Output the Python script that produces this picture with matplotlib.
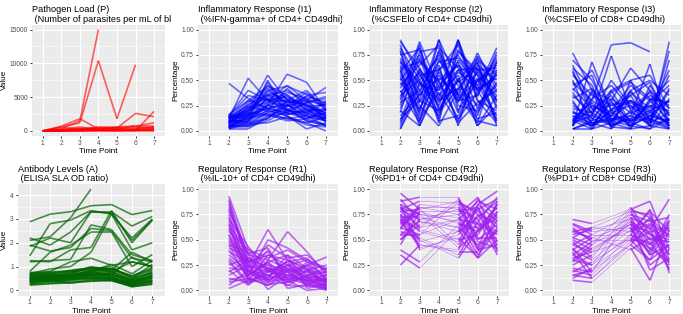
import numpy as np
import matplotlib
matplotlib.use("Agg")
import matplotlib.pyplot as plt
from matplotlib.transforms import Bbox, TransformedBbox

nan = np.nan
time_points = [1, 2, 3, 4, 5, 6, 7]
time_labels = ["1", "2", "3", "4", "5", "6", "7"]

# ---------------- data (one row per subject) ----------------
pathogen_load = [
    [50, 300, 1500, 15000, nan, nan, nan],
    [20, 600, 1200, 10400, 1800, 9800, nan],
    [0, 700, 1800, 300, 400, 2600, 2100],
    [0, 200, 600, 200, 500, 0, 2900],
    [0, 500, 300, 400, 600, 700, 1200],
    [0, 100, 200, 500, 300, 800, 800],
    [0, 50, 100, 200, 150, 300, 500],
    [0, 0, 50, 100, 50, 100, 200],
    [0, 30, 400, 150, 250, 400, 600],
    [0, 80, 150, 300, 200, 200, 300],
    [0, 10, 20, 50, 30, 50, 100],
    [0, 150, 250, 600, 500, 550, 400],
    [0, 20, 60, 80, 100, 150, 50],
    [0, 5, 10, 20, 10, 20, 30],
]

infl_i1 = [
    [nan, 0.47, 0.32, 0.22, 0.18, 0.15, 0.10],
    [nan, 0.12, 0.52, 0.30, 0.20, 0.18, 0.12],
    [nan, 0.10, 0.20, 0.55, 0.30, 0.25, 0.18],
    [nan, 0.08, 0.15, 0.25, 0.56, 0.48, 0.20],
    [nan, 0.15, 0.40, 0.30, 0.45, 0.30, 0.43],
    [nan, 0.05, 0.10, 0.50, 0.20, 0.35, 0.38],
    [nan, 0.03, 0.05, 0.15, 0.22, 0.10, 0.05],
    [nan, 0.10, 0.18, 0.45, 0.35, 0.20, 0.15],
    [nan, 0.06, 0.12, 0.20, 0.15, 0.02, 0.08],
    [nan, 0.14, 0.25, 0.40, 0.28, 0.30, 0.25],
    [nan, 0.02, 0.08, 0.12, 0.30, 0.22, 0.10],
    [nan, 0.12, 0.22, 0.35, 0.40, 0.28, 0.32],
    [nan, 0.09, 0.06, 0.18, 0.12, 0.15, 0.05],
    [nan, 0.04, 0.14, 0.28, 0.25, 0.38, 0.20],
    [nan, 0.16, 0.30, 0.22, 0.18, 0.12, 0.22],
    [nan, 0.07, 0.20, 0.38, 0.32, 0.26, 0.14],
    [nan, 0.11, 0.09, 0.26, 0.14, 0.08, 0.00],
    [nan, 0.13, 0.16, 0.32, 0.24, 0.34, 0.28],
    [nan, 0.05, 0.04, 0.10, 0.20, 0.16, 0.12],
    [nan, 0.08, 0.28, 0.42, 0.26, 0.18, 0.30],
    [nan, 0.15, 0.12, 0.24, 0.36, 0.22, 0.16],
    [nan, 0.03, 0.18, 0.16, 0.10, 0.12, 0.18],
    [nan, 0.10, 0.10, 0.34, 0.28, 0.32, 0.08],
    [nan, 0.06, 0.24, 0.20, 0.42, 0.24, 0.26],
    [nan, 0.12, 0.14, 0.48, 0.16, 0.20, 0.12],
    [nan, 0.04, 0.07, 0.08, 0.14, 0.06, 0.04],
    [nan, 0.14, 0.35, 0.30, 0.30, 0.40, 0.22],
    [nan, 0.09, 0.16, 0.22, 0.26, 0.14, 0.10],
    [nan, 0.02, 0.02, 0.14, 0.18, 0.28, 0.14],
    [nan, 0.11, 0.26, 0.36, 0.22, 0.10, 0.06],
    [nan, 0.08, 0.12, 0.26, 0.20, 0.18, 0.10],
    [nan, 0.13, 0.20, 0.30, 0.34, 0.24, 0.18],
    [nan, 0.05, 0.15, 0.22, 0.28, 0.20, 0.22],
    [nan, 0.10, 0.08, 0.18, 0.24, 0.30, 0.16],
    [nan, 0.07, 0.22, 0.28, 0.38, 0.32, 0.24],
    [nan, 0.15, 0.18, 0.36, 0.30, 0.26, 0.12],
    [nan, 0.03, 0.10, 0.20, 0.16, 0.22, 0.20],
    [nan, 0.12, 0.30, 0.44, 0.32, 0.16, 0.28],
    [nan, 0.06, 0.05, 0.12, 0.26, 0.12, 0.06],
    [nan, 0.09, 0.24, 0.32, 0.20, 0.28, 0.34],
    [nan, 0.14, 0.16, 0.40, 0.44, 0.36, 0.26],
    [nan, 0.04, 0.13, 0.16, 0.12, 0.08, 0.14],
]

infl_i2 = [
    [nan, 0.90, 0.55, 0.30, 0.60, 0.40, 0.82],
    [nan, 0.85, 0.30, 0.90, 0.20, 0.50, 0.65],
    [nan, 0.10, 0.60, 0.40, 0.90, 0.30, 0.20],
    [nan, 0.02, 0.45, 0.75, 0.35, 0.77, 0.40],
    [nan, 0.75, 0.80, 0.20, 0.50, 0.15, 0.70],
    [nan, 0.55, 0.10, 0.60, 0.75, 0.40, 0.10],
    [nan, 0.30, 0.70, 0.50, 0.10, 0.60, 0.30],
    [nan, 0.65, 0.25, 0.05, 0.40, 0.70, 0.55],
    [nan, 0.20, 0.05, 0.45, 0.65, 0.10, 0.05],
    [nan, 0.45, 0.65, 0.85, 0.25, 0.20, 0.60],
    [nan, 0.70, 0.40, 0.15, 0.80, 0.55, 0.35],
    [nan, 0.15, 0.35, 0.65, 0.05, 0.65, 0.50],
    [nan, 0.50, 0.75, 0.35, 0.55, 0.05, 0.25],
    [nan, 0.80, 0.15, 0.55, 0.30, 0.35, 0.75],
    [nan, 0.35, 0.50, 0.25, 0.70, 0.45, 0.15],
    [nan, 0.60, 0.20, 0.70, 0.45, 0.25, 0.45],
    [nan, 0.25, 0.85, 0.10, 0.15, 0.50, 0.60],
    [nan, 0.05, 0.55, 0.60, 0.85, 0.30, 0.08],
    [nan, 0.72, 0.45, 0.40, 0.60, 0.62, 0.38],
    [nan, 0.40, 0.08, 0.80, 0.35, 0.08, 0.68],
    [nan, 0.12, 0.30, 0.20, 0.50, 0.72, 0.30],
    [nan, 0.62, 0.68, 0.48, 0.12, 0.38, 0.55],
    [nan, 0.28, 0.40, 0.68, 0.72, 0.55, 0.12],
    [nan, 0.88, 0.62, 0.30, 0.42, 0.18, 0.48],
    [nan, 0.48, 0.22, 0.58, 0.28, 0.68, 0.22],
    [nan, 0.18, 0.78, 0.82, 0.62, 0.45, 0.72],
    [nan, 0.58, 0.12, 0.38, 0.08, 0.28, 0.40],
    [nan, 0.38, 0.58, 0.12, 0.78, 0.60, 0.62],
    [nan, 0.68, 0.35, 0.52, 0.38, 0.12, 0.18],
    [nan, 0.08, 0.48, 0.28, 0.58, 0.42, 0.52],
    [nan, 0.82, 0.50, 0.72, 0.30, 0.52, 0.10],
    [nan, 0.32, 0.88, 0.42, 0.68, 0.22, 0.58],
    [nan, 0.52, 0.18, 0.90, 0.48, 0.62, 0.28],
    [nan, 0.22, 0.62, 0.08, 0.88, 0.34, 0.78],
    [nan, 0.78, 0.28, 0.62, 0.18, 0.74, 0.45],
    [nan, 0.42, 0.72, 0.22, 0.52, 0.05, 0.35],
    [nan, 0.62, 0.05, 0.50, 0.65, 0.48, 0.68],
    [nan, 0.02, 0.38, 0.78, 0.32, 0.58, 0.25],
    [nan, 0.58, 0.82, 0.32, 0.90, 0.40, 0.55],
    [nan, 0.68, 0.48, 0.18, 0.42, 0.68, 0.05],
]

infl_i3 = [
    [nan, 0.10, 0.30, 0.85, 0.87, 0.78, nan],
    [nan, 0.77, 0.40, 0.10, 0.30, 0.20, 0.05],
    [nan, 0.05, 0.68, 0.20, 0.05, 0.30, 0.10],
    [nan, 0.60, 0.15, 0.74, 0.20, 0.05, 0.88],
    [nan, 0.20, 0.05, 0.30, 0.62, 0.40, 0.15],
    [nan, 0.45, 0.55, 0.05, 0.15, 0.66, 0.02],
    [nan, 0.02, 0.10, 0.40, 0.50, 0.10, 0.79],
    [nan, 0.65, 0.25, 0.15, 0.10, 0.25, 0.20],
    [nan, 0.30, 0.02, 0.08, 0.40, 0.50, 0.35],
    [nan, 0.10, 0.20, 0.35, 0.05, 0.15, 0.08],
    [nan, 0.55, 0.35, 0.25, 0.30, 0.08, 0.40],
    [nan, 0.15, 0.08, 0.02, 0.20, 0.35, 0.25],
    [nan, 0.70, 0.50, 0.12, 0.08, 0.02, 0.12],
    [nan, 0.08, 0.15, 0.50, 0.25, 0.12, 0.05],
    [nan, 0.40, 0.60, 0.20, 0.45, 0.30, 0.50],
    [nan, 0.25, 0.12, 0.06, 0.12, 0.20, 0.30],
    [nan, 0.05, 0.40, 0.30, 0.02, 0.45, 0.15],
    [nan, 0.50, 0.05, 0.15, 0.35, 0.05, 0.70],
    [nan, 0.12, 0.28, 0.10, 0.18, 0.10, 0.02],
    [nan, 0.35, 0.18, 0.40, 0.08, 0.28, 0.45],
    [nan, 0.02, 0.02, 0.22, 0.28, 0.15, 0.10],
    [nan, 0.62, 0.45, 0.02, 0.50, 0.55, 0.22],
    [nan, 0.18, 0.10, 0.18, 0.05, 0.02, 0.32],
    [nan, 0.08, 0.32, 0.45, 0.22, 0.38, 0.06],
    [nan, 0.28, 0.08, 0.12, 0.15, 0.08, 0.18],
    [nan, 0.42, 0.22, 0.08, 0.38, 0.22, 0.60],
    [nan, 0.15, 0.05, 0.28, 0.10, 0.12, 0.03],
    [nan, 0.05, 0.38, 0.04, 0.02, 0.32, 0.28],
    [nan, 0.12, 0.05, 0.20, 0.30, 0.18, 0.08],
    [nan, 0.22, 0.18, 0.05, 0.12, 0.40, 0.22],
    [nan, 0.05, 0.25, 0.15, 0.40, 0.10, 0.42],
    [nan, 0.38, 0.12, 0.32, 0.18, 0.25, 0.05],
    [nan, 0.02, 0.08, 0.10, 0.05, 0.15, 0.30],
    [nan, 0.48, 0.30, 0.18, 0.25, 0.05, 0.12],
    [nan, 0.10, 0.02, 0.38, 0.48, 0.32, 0.18],
    [nan, 0.32, 0.42, 0.12, 0.10, 0.18, 0.55],
    [nan, 0.58, 0.22, 0.25, 0.35, 0.48, 0.10],
    [nan, 0.18, 0.15, 0.08, 0.02, 0.05, 0.02],
]

antibody = [
    [2.88, 3.20, 3.30, 3.55, 3.60, 3.18, 3.35],
    [2.10, 2.25, 3.05, 4.25, nan, nan, nan],
    [1.85, 2.20, 2.00, 3.30, 3.30, 2.70, 3.10],
    [1.45, 2.80, 2.95, 3.35, 3.20, 2.20, 3.00],
    [2.20, 1.90, 2.45, 3.30, 3.25, 2.10, 2.95],
    [1.20, 1.25, 1.30, 2.75, 2.55, 1.50, 1.25],
    [0.80, 1.60, 1.90, 2.45, 2.45, 1.00, 1.50],
    [1.25, 1.20, 1.70, 1.80, 3.35, 2.00, 2.95],
    [0.70, 0.90, 1.00, 1.60, 3.20, 1.70, 2.00],
    [0.75, 0.80, 1.20, 1.35, 1.05, 1.20, 1.00],
    [1.90, 1.65, 1.80, 2.60, 2.50, 1.35, 1.20],
    [0.55, 0.60, 0.75, 0.95, 0.80, 0.45, 0.80],
    [0.45, 0.50, 0.55, 0.70, 0.60, 0.25, 0.55],
    [0.35, 0.40, 0.45, 0.55, 0.50, 0.20, 0.40],
    [0.60, 0.70, 0.60, 0.85, 0.90, 0.60, 0.90],
    [0.25, 0.30, 0.35, 0.40, 0.45, 0.15, 0.30],
    [0.50, 0.55, 0.65, 0.75, 0.70, 0.35, 0.65],
    [0.40, 0.45, 0.50, 0.60, 0.55, 0.30, 0.50],
    [0.65, 0.60, 0.70, 1.00, 0.85, 1.60, 1.20],
    [0.30, 0.35, 0.40, 0.50, 0.45, 0.25, 0.35],
    [0.70, 0.75, 0.80, 0.90, 1.00, 0.50, 1.10],
    [0.55, 0.45, 0.60, 0.65, 0.75, 0.40, 0.70],
    [0.45, 0.65, 0.50, 0.80, 0.65, 1.40, 0.95],
    [0.38, 0.50, 0.58, 0.62, 0.58, 0.28, 0.45],
    [0.62, 0.55, 0.68, 0.78, 1.10, 0.70, 1.25],
    [0.28, 0.42, 0.30, 0.45, 0.40, 0.18, 0.28],
    [0.50, 0.38, 0.45, 0.58, 0.50, 0.35, 0.60],
    [0.72, 0.68, 0.85, 0.95, 0.92, 0.55, 0.85],
    [0.42, 0.58, 0.62, 0.72, 0.62, 0.45, 0.75],
    [0.58, 0.72, 0.78, 0.88, 0.78, 1.20, 1.00],
    [0.33, 0.48, 0.52, 0.48, 0.52, 0.22, 0.38],
    [0.48, 0.52, 0.58, 0.68, 0.72, 0.30, 0.62],
    [0.36, 0.42, 0.48, 0.52, 0.48, 0.24, 0.42],
    [0.62, 0.66, 0.72, 0.82, 0.88, 0.52, 0.72],
    [0.52, 0.58, 0.62, 0.78, 0.80, 0.42, 0.58],
    [0.22, 0.28, 0.32, 0.38, 0.42, 0.16, 0.25],
    [0.68, 0.78, 0.82, 0.95, 0.90, 0.62, 0.95],
    [0.44, 0.48, 0.55, 0.62, 0.66, 0.38, 0.52],
]

reg_r1 = [
    [nan, 0.93, 0.40, 0.25, 0.20, 0.15, 0.10],
    [nan, 0.90, 0.30, 0.20, 0.15, 0.10, 0.05],
    [nan, 0.85, 0.25, 0.60, 0.30, 0.20, 0.08],
    [nan, 0.80, 0.35, 0.30, 0.58, 0.38, 0.15],
    [nan, 0.75, 0.20, 0.15, 0.25, 0.12, 0.02],
    [nan, 0.70, 0.43, 0.20, 0.10, 0.25, 0.33],
    [nan, 0.65, 0.15, 0.50, 0.42, 0.30, 0.20],
    [nan, 0.60, 0.28, 0.10, 0.18, 0.05, 0.03],
    [nan, 0.55, 0.10, 0.35, 0.30, 0.22, 0.12],
    [nan, 0.50, 0.22, 0.25, 0.05, 0.15, 0.22],
    [nan, 0.45, 0.38, 0.18, 0.28, 0.08, 0.01],
    [nan, 0.40, 0.12, 0.05, 0.20, 0.18, 0.18],
    [nan, 0.35, 0.18, 0.40, 0.12, 0.28, 0.10],
    [nan, 0.30, 0.08, 0.12, 0.35, 0.02, 0.06],
    [nan, 0.25, 0.32, 0.22, 0.08, 0.20, 0.25],
    [nan, 0.20, 0.05, 0.30, 0.22, 0.10, 0.04],
    [nan, 0.15, 0.25, 0.01, 0.15, 0.25, 0.14],
    [nan, 0.10, 0.15, 0.28, 0.02, 0.06, 0.00],
    [nan, 0.05, 0.20, 0.08, 0.25, 0.12, 0.08],
    [nan, 0.02, 0.10, 0.15, 0.10, 0.00, 0.02],
    [nan, 0.88, 0.22, 0.45, 0.32, 0.35, 0.18],
    [nan, 0.78, 0.35, 0.10, 0.22, 0.18, 0.05],
    [nan, 0.68, 0.12, 0.22, 0.12, 0.06, 0.12],
    [nan, 0.58, 0.40, 0.32, 0.40, 0.28, 0.20],
    [nan, 0.48, 0.18, 0.06, 0.08, 0.14, 0.03],
    [nan, 0.38, 0.28, 0.38, 0.18, 0.08, 0.15],
    [nan, 0.28, 0.06, 0.18, 0.28, 0.32, 0.10],
    [nan, 0.18, 0.30, 0.14, 0.05, 0.04, 0.07],
    [nan, 0.62, 0.14, 0.28, 0.35, 0.22, 0.01],
    [nan, 0.52, 0.25, 0.08, 0.15, 0.10, 0.09],
    [nan, 0.82, 0.28, 0.35, 0.25, 0.20, 0.08],
    [nan, 0.72, 0.18, 0.12, 0.30, 0.15, 0.18],
    [nan, 0.42, 0.32, 0.22, 0.18, 0.25, 0.05],
    [nan, 0.32, 0.15, 0.28, 0.12, 0.10, 0.12],
    [nan, 0.22, 0.20, 0.10, 0.20, 0.06, 0.02],
    [nan, 0.12, 0.08, 0.20, 0.08, 0.14, 0.10],
    [nan, 0.08, 0.12, 0.05, 0.15, 0.08, 0.05],
    [nan, 0.55, 0.25, 0.18, 0.25, 0.30, 0.22],
    [nan, 0.65, 0.36, 0.42, 0.10, 0.20, 0.08],
    [nan, 0.45, 0.10, 0.15, 0.22, 0.12, 0.15],
]

reg_r2 = [
    [nan, 0.96, 0.80, nan, 0.88, 0.65, 0.55],
    [nan, 0.25, 0.45, nan, 0.40, 0.85, 0.98],
    [nan, 0.88, 0.92, nan, 0.92, 0.40, 0.70],
    [nan, 0.35, 0.22, nan, 0.60, 0.32, 0.50],
    [nan, 0.80, 0.70, nan, 0.75, 0.92, 0.40],
    [nan, 0.70, 0.60, nan, 0.50, 0.55, 0.85],
    [nan, 0.60, 0.85, nan, 0.80, 0.70, 0.35],
    [nan, 0.75, 0.50, nan, 0.32, 0.60, 0.75],
    [nan, 0.65, 0.75, nan, 0.68, 0.35, 0.60],
    [nan, 0.85, 0.40, nan, 0.55, 0.80, 0.90],
    [nan, 0.50, 0.65, nan, 0.85, 0.50, 0.65],
    [nan, 0.78, 0.80, nan, 0.45, 0.75, 0.45],
    [nan, 0.55, 0.55, nan, 0.70, 0.88, 0.80],
    [nan, 0.72, 0.72, nan, 0.62, 0.45, 0.58],
    [nan, 0.82, 0.62, nan, 0.90, 0.60, 0.72],
    [nan, 0.45, 0.78, nan, 0.78, 0.82, 0.38],
    [nan, 0.68, 0.45, nan, 0.38, 0.38, 0.62],
    [nan, 0.90, 0.68, nan, 0.58, 0.72, 0.88],
    [nan, 0.62, 0.82, nan, 0.82, 0.52, 0.52],
    [nan, 0.75, 0.58, nan, 0.48, 0.85, 0.68],
    [nan, 0.40, 0.28, nan, 0.65, 0.62, 0.82],
    [nan, 0.85, 0.75, nan, 0.72, 0.40, 0.45],
    [nan, 0.58, 0.52, nan, 0.35, 0.68, 0.92],
    [nan, 0.80, 0.88, nan, 0.86, 0.78, 0.62],
    [nan, 0.70, 0.42, nan, 0.52, 0.32, 0.78],
    [nan, 0.66, 0.78, nan, 0.66, 0.58, 0.85],
    [nan, 0.72, 0.48, nan, 0.58, 0.90, 0.72],
    [nan, 0.50, 0.70, nan, 0.80, 0.48, 0.42],
    [nan, 0.78, 0.62, nan, 0.70, 0.66, 0.58],
    [nan, 0.62, 0.55, nan, 0.88, 0.75, 0.66],
    [nan, 0.82, 0.75, nan, 0.42, 0.58, 0.78],
    [nan, 0.55, 0.68, nan, 0.62, 0.82, 0.48],
    [nan, 0.68, 0.82, nan, 0.75, 0.42, 0.88],
]

reg_r3 = [
    [nan, 0.70, 0.66, nan, 0.80, 0.88, 0.40],
    [nan, 0.10, 0.08, nan, 0.42, 0.10, 0.60],
    [nan, 0.65, 0.55, nan, 0.75, 0.60, 0.90],
    [nan, 0.20, 0.15, nan, 0.55, 0.80, 0.17],
    [nan, 0.55, 0.60, nan, 0.70, 0.40, 0.75],
    [nan, 0.40, 0.30, nan, 0.60, 0.70, 0.25],
    [nan, 0.30, 0.45, nan, 0.82, 0.55, 0.50],
    [nan, 0.60, 0.50, nan, 0.50, 0.30, 0.65],
    [nan, 0.15, 0.20, nan, 0.45, 0.65, 0.35],
    [nan, 0.50, 0.40, nan, 0.65, 0.50, 0.55],
    [nan, 0.35, 0.25, nan, 0.78, 0.75, 0.30],
    [nan, 0.45, 0.55, nan, 0.55, 0.45, 0.70],
    [nan, 0.25, 0.35, nan, 0.68, 0.35, 0.45],
    [nan, 0.62, 0.48, nan, 0.72, 0.62, 0.20],
    [nan, 0.38, 0.12, nan, 0.48, 0.58, 0.62],
    [nan, 0.28, 0.42, nan, 0.62, 0.25, 0.40],
    [nan, 0.52, 0.62, nan, 0.58, 0.78, 0.58],
    [nan, 0.18, 0.28, nan, 0.52, 0.42, 0.28],
    [nan, 0.42, 0.18, nan, 0.75, 0.68, 0.72],
    [nan, 0.58, 0.52, nan, 0.40, 0.52, 0.48],
    [nan, 0.32, 0.38, nan, 0.66, 0.20, 0.32],
    [nan, 0.48, 0.32, nan, 0.80, 0.72, 0.52],
    [nan, 0.12, 0.22, nan, 0.50, 0.48, 0.22],
    [nan, 0.66, 0.58, nan, 0.62, 0.35, 0.68],
    [nan, 0.52, 0.45, nan, 0.68, 0.55, 0.42],
    [nan, 0.35, 0.48, nan, 0.58, 0.66, 0.55],
    [nan, 0.22, 0.18, nan, 0.72, 0.45, 0.62],
    [nan, 0.45, 0.38, nan, 0.50, 0.72, 0.35],
    [nan, 0.58, 0.62, nan, 0.78, 0.50, 0.48],
    [nan, 0.30, 0.25, nan, 0.55, 0.38, 0.68],
    [nan, 0.40, 0.52, nan, 0.65, 0.58, 0.28],
    [nan, 0.15, 0.12, nan, 0.45, 0.30, 0.45],
]

titles = [
    "Pathogen Load (P)\n (Number of parasites per mL of blood)",
    "Inflammatory Response (I1)\n (%IFN-gamma+ of CD4+ CD49dhi)",
    "Inflammatory Response (I2)\n (%CSFElo of CD4+ CD49dhi)",
    "Inflammatory Response (I3)\n (%CSFElo of CD8+ CD49dhi)",
    "Antibody Levels (A)\n (ELISA SLA OD ratio)",
    "Regulatory Response (R1)\n (%IL-10+ of CD4+ CD49dhi)",
    "Regulatory Response (R2)\n (%PD1+ of CD4+ CD49dhi)",
    "Regulatory Response (R3)\n (%PD1+ of CD8+ CD49dhi)",
]
y_titles = ["Value", "Percentage", "Percentage", "Percentage",
            "Value", "Percentage", "Percentage", "Percentage"]
series = [pathogen_load, infl_i1, infl_i2, infl_i3,
          antibody, reg_r1, reg_r2, reg_r3]
colors = ["#FF0000", "#0000FF", "#0000FF", "#0000FF",
          "#006400", "#A020F0", "#A020F0", "#A020F0"]
alphas = [0.6, 0.55, 0.6, 0.6, 0.7, 0.65, 0.7, 0.7]

pct_ticks = [0.0, 0.25, 0.5, 0.75, 1.0]
pct_labels = ["0.00", "0.25", "0.50", "0.75", "1.00"]
y_ticks = [[0, 5000, 10000, 15000], pct_ticks, pct_ticks, pct_ticks,
           [0, 1, 2, 3, 4], pct_ticks, pct_ticks, pct_ticks]
y_tick_labels = [["0", "5000", "10000", "15000"], pct_labels, pct_labels, pct_labels,
                 ["0", "1", "2", "3", "4"], pct_labels, pct_labels, pct_labels]
y_limits = [(-750, 15750), (-0.05, 1.05), (-0.05, 1.05), (-0.05, 1.05),
            (-0.2125, 4.4625), (-0.05, 1.05), (-0.05, 1.05), (-0.05, 1.05)]

# ---------------- layout (pixels) ----------------
W, H = 683, 314
plt.rcParams['font.family'] = ['Liberation Sans', 'DejaVu Sans']
fig = plt.figure(figsize=(W / 100, H / 100), dpi=100)
fig.patch.set_facecolor("white")

panel_x = [(31.6, 165.2), (197.6, 337.7), (369.4, 508.3), (541.7, 680.9),
           (17.5, 164.6), (197.6, 338.4), (369.4, 509.0), (541.7, 680.9)]
panel_y = [(24.5, 136.0)] * 4 + [(184.0, 295.5)] * 4
cell_w = W / 4

for i in range(8):
    x0, x1 = panel_x[i]
    y0, y1 = panel_y[i]
    ax = fig.add_axes([x0 / W, 1 - y1 / H, (x1 - x0) / W, (y1 - y0) / H])
    ax.set_facecolor("#EBEBEB")
    for s in ax.spines.values():
        s.set_visible(False)
    ax.set_xlim(0.4, 7.6)
    ax.set_ylim(*y_limits[i])
    ax.set_xticks(time_points)
    ax.set_xticklabels(time_labels)
    yt = y_ticks[i]
    ax.set_yticks(yt)
    ax.set_yticklabels(y_tick_labels[i])
    minors = [(a + b) / 2 for a, b in zip(yt[:-1], yt[1:])]
    step = yt[1] - yt[0]
    if yt[-1] + step / 2 < y_limits[i][1]:
        minors.append(yt[-1] + step / 2)
    ax.set_yticks(minors, minor=True)
    ax.grid(True, which="major", color="white", linewidth=0.75)
    ax.grid(True, which="minor", axis="y", color="white", linewidth=0.38)
    ax.set_axisbelow(True)
    ax.tick_params(which="major", length=1.6, width=0.7, color="#333333",
                   labelsize=4.8, labelcolor="#4D4D4D", pad=1.1)
    ax.tick_params(which="minor", length=0)

    col = colors[i]
    al = alphas[i]
    for row in series[i]:
        yv = np.array(row, dtype=float)
        xv = np.array(time_points, dtype=float)
        ok = ~np.isnan(yv)
        xs, ys = xv[ok], yv[ok]
        if len(xs) < 2:
            continue
        # draw segment by segment; links over a missing time point are thinner
        for k in range(len(xs) - 1):
            gap = xs[k + 1] - xs[k] > 1
            ax.plot(xs[k:k + 2], ys[k:k + 2], color=col, alpha=al * (0.75 if gap else 1),
                    linewidth=0.45 if gap else 1.2, solid_capstyle="butt",
                    solid_joinstyle="round")

    ax.set_xlabel("Time Point", fontsize=5.9, labelpad=1.0, color="black")
    ax.set_ylabel(y_titles[i], fontsize=5.9, labelpad=1.5, color="black")
    t = ax.set_title(titles[i], loc="left", fontsize=6.6, pad=2.0,
                     linespacing=1.08, color="black")
    col_idx = i % 4
    cb = TransformedBbox(Bbox([[col_idx * cell_w / W, 0], [(col_idx + 1) * cell_w / W, 1]]),
                         fig.transFigure)
    t.set_clip_box(cb)
    t.set_clip_on(True)

fig.savefig("out.png", dpi=100, facecolor="white")
